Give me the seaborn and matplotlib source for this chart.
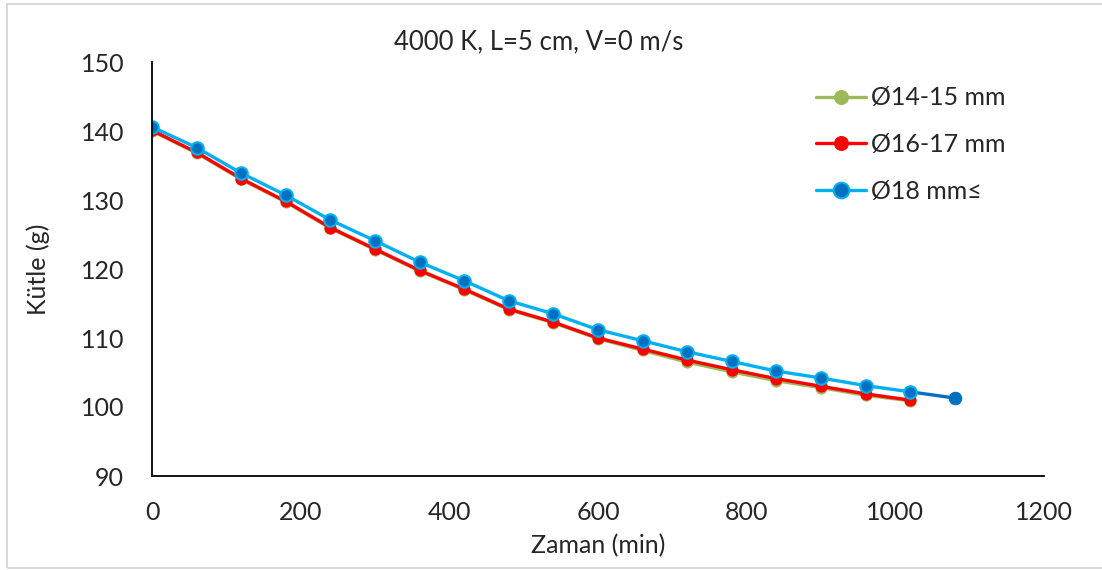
import numpy as np
import pandas as pd
import matplotlib
matplotlib.use("Agg")
import matplotlib.pyplot as plt
from matplotlib.patches import Rectangle
import seaborn as sns

time_min = [0, 60, 120, 180, 240, 300, 360, 420, 480, 540, 600, 660, 720, 780, 840, 900, 960, 1020]
time_blue = time_min + [1080]
mass_14_15 = [140.0, 136.8, 133.0, 129.7, 125.9, 122.8, 119.7, 117.0, 114.1, 112.2, 109.9, 108.2, 106.5, 105.1, 103.8, 102.8, 101.7, 100.9]
mass_16_17 = [140.1, 136.9, 133.1, 129.8, 126.0, 122.9, 119.8, 117.1, 114.2, 112.3, 110.0, 108.4, 106.8, 105.4, 104.1, 103.0, 101.9, 101.0]
mass_18 = [140.6, 137.6, 133.9, 130.7, 127.1, 124.1, 121.0, 118.3, 115.4, 113.5, 111.2, 109.6, 108.0, 106.6, 105.2, 104.2, 103.1, 102.2, 101.3]
labels = ["Ø14-15 mm", "Ø16-17 mm", "Ø18 mm≤"]

sns.set_style("white")
plt.rcParams['font.family'] = ['Lato', 'DejaVu Sans']

W, H = 1102, 570
fig = plt.figure(figsize=(W / 100, H / 100), dpi=100)
fig.patches.append(Rectangle((6.5 / W, 2 / H), 1.2, (566.5 - 2) / H + 0.0, transform=fig.transFigure,
                             fill=False, edgecolor="#D9D9D9", linewidth=1.5, zorder=0))
ax = fig.add_axes([152 / W, 1 - 476 / H, (1044 - 152) / W, (476 - 62) / H])

df_g = pd.DataFrame({"t": time_min, "m": mass_14_15})
df_r = pd.DataFrame({"t": time_min, "m": mass_16_17})
df_b = pd.DataFrame({"t": time_blue[:-1], "m": mass_18[:-1]})
df_tail = pd.DataFrame({"t": time_blue[-2:], "m": mass_18[-2:]})

lw = 2.4
ms = 8
sns.lineplot(data=df_g, x="t", y="m", ax=ax, color="#9BBB59", lw=lw, marker="o",
             markersize=ms, markerfacecolor="#9BBB59", markeredgecolor="#9BBB59", label=labels[0])
sns.lineplot(data=df_r, x="t", y="m", ax=ax, color="#FF0000", lw=lw, marker="o",
             markersize=ms, markerfacecolor="#FF0000", markeredgecolor="#FF0000", label=labels[1])
sns.lineplot(data=df_tail, x="t", y="m", ax=ax, color="#0070C0", lw=lw, marker="o",
             markersize=ms + 1, markerfacecolor="#0070C0", markeredgecolor="#0070C0", legend=False)
sns.lineplot(data=df_b, x="t", y="m", ax=ax, color="#00B0F0", lw=lw, marker="o",
             markersize=ms + 1, markerfacecolor="#0070C0", markeredgecolor="#00B0F0",
             markeredgewidth=1.5, label=labels[2])

fs = 18
ax.set_xlim(0, 1200)
ax.set_ylim(90, 150)
ax.set_xticks(np.arange(0, 1201, 200))
ax.set_yticks(np.arange(90, 151, 10))
ax.tick_params(axis="y", labelsize=fs, length=0, pad=20)
ax.tick_params(axis="x", labelsize=fs, length=0, pad=18)
for s in ["top", "right"]:
    ax.spines[s].set_visible(False)
for s in ["left", "bottom"]:
    ax.spines[s].set_color("black")
    ax.spines[s].set_linewidth(1.3)
ax.set_xlabel("Zaman (min)", fontsize=fs, labelpad=7)
ax.set_ylabel("Kütle (g)", fontsize=fs, labelpad=22)
fig.text(539 / W, 1 - 42 / H, "4000 K, L=5 cm, V=0 m/s", ha="center", va="center", fontsize=18.5)

leg = ax.legend(loc="upper left", bbox_to_anchor=((806 - 152) / 892, 0.965), frameon=False, fontsize=fs,
                handlelength=2.0, handletextpad=0.2, labelspacing=0.95, borderaxespad=0,
                markerscale=1.25)

fig.savefig("out.png", dpi=100)
